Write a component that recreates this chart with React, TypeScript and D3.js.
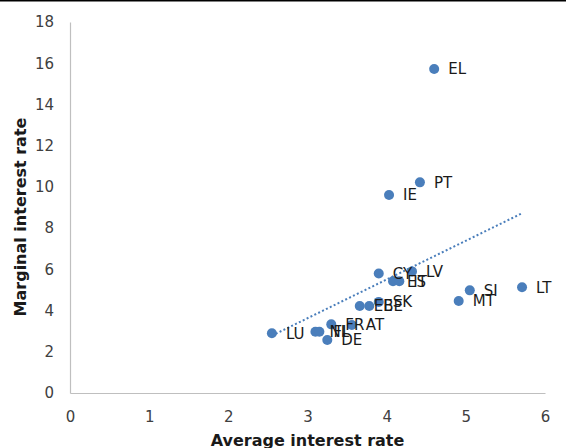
import React, { useEffect, useRef } from 'react';
import * as d3 from 'd3';

// country codes and the two rates (avg on x, marginal on y)
const countries = ['EL', 'PT', 'IE', 'LV', 'CY', 'ES', 'IT', 'SK', 'EE', 'BE', 'FR', 'AT', 'DE', 'NL', 'FI', 'LU', 'MT', 'SI', 'LT'];
const averageRate = [4.6, 4.42, 4.03, 4.32, 3.9, 4.08, 4.16, 3.9, 3.66, 3.78, 3.3, 3.56, 3.25, 3.1, 3.15, 2.55, 4.91, 5.05, 5.71];
const marginalRate = [15.72, 10.22, 9.61, 5.9, 5.8, 5.42, 5.42, 4.42, 4.22, 4.22, 3.33, 3.3, 2.57, 2.97, 2.97, 2.9, 4.46, 4.98, 5.13];

const xTicks = [0, 1, 2, 3, 4, 5, 6];
const yTicks = [0, 2, 4, 6, 8, 10, 12, 14, 16, 18];

const WIDTH = 566;
const HEIGHT = 448;
const BLUE = '#4a7ebb';

export default function App() {
  const ref = useRef<SVGSVGElement>(null);

  useEffect(() => {
    if (!ref.current) return;
    const svg = d3.select(ref.current);
    svg.selectAll('*').remove();

    const x = d3.scaleLinear().domain([0, 6]).range([70, 545]);
    const y = d3.scaleLinear().domain([0, 18]).range([393, 22]);

    // thin black rule along the top edge
    svg.append('line')
      .attr('x1', 0).attr('x2', WIDTH)
      .attr('y1', 0.5).attr('y2', 0.5)
      .attr('stroke', '#000')
      .attr('stroke-width', 2);

    // axes
    const xAxis = svg.append('g')
      .attr('transform', `translate(0,${y(0)})`)
      .call(d3.axisBottom(x).tickValues(xTicks).tickSize(0).tickPadding(18).tickFormat(d3.format('d')));
    const yAxis = svg.append('g')
      .attr('transform', `translate(${x(0)},0)`)
      .call(d3.axisLeft(y).tickValues(yTicks).tickSize(0).tickPadding(16).tickFormat(d3.format('d')));

    [xAxis, yAxis].forEach(a => {
      a.select('.domain').attr('stroke', '#bfbfbf').attr('stroke-width', 1.2);
      a.selectAll('text')
        .attr('fill', '#404040')
        .style('font-family', 'DejaVu Sans, Verdana, sans-serif')
        .style('font-size', '15px');
    });

    // linear trend line over the data range
    const n = countries.length;
    const mx = d3.mean(averageRate) ?? 0;
    const my = d3.mean(marginalRate) ?? 0;
    let sxy = 0;
    let sxx = 0;
    for (let i = 0; i < n; i++) {
      sxy += (averageRate[i] - mx) * (marginalRate[i] - my);
      sxx += (averageRate[i] - mx) ** 2;
    }
    const slope = sxy / sxx;
    const intercept = my - slope * mx;
    const [x0, x1] = d3.extent(averageRate) as [number, number];

    svg.append('line')
      .attr('x1', x(x0)).attr('y1', y(intercept + slope * x0))
      .attr('x2', x(x1)).attr('y2', y(intercept + slope * x1))
      .attr('stroke', BLUE)
      .attr('stroke-width', 2)
      .attr('stroke-dasharray', '2 2.3');

    // points
    const idx = d3.range(n);
    svg.append('g')
      .selectAll('circle')
      .data(idx)
      .enter()
      .append('circle')
      .attr('cx', i => x(averageRate[i]))
      .attr('cy', i => y(marginalRate[i]))
      .attr('r', 5)
      .attr('fill', BLUE);

    // country labels (overlaps are as in the original)
    svg.append('g')
      .selectAll('text')
      .data(idx)
      .enter()
      .append('text')
      .attr('x', i => x(averageRate[i]) + 14)
      .attr('y', i => y(marginalRate[i]))
      .attr('dy', '0.36em')
      .attr('fill', '#1a1a1a')
      .style('font-family', 'DejaVu Sans, Verdana, sans-serif')
      .style('font-size', '15px')
      .text(i => countries[i]);

    // axis titles
    svg.append('text')
      .attr('x', (x(0) + x(6)) / 2)
      .attr('y', 446)
      .attr('text-anchor', 'middle')
      .attr('fill', '#1a1a1a')
      .style('font-family', 'DejaVu Sans, Verdana, sans-serif')
      .style('font-size', '16px')
      .style('font-weight', 'bold')
      .text('Average interest rate');

    svg.append('text')
      .attr('transform', 'translate(26,217) rotate(-90)')
      .attr('text-anchor', 'middle')
      .attr('fill', '#1a1a1a')
      .style('font-family', 'DejaVu Sans, Verdana, sans-serif')
      .style('font-size', '16px')
      .style('font-weight', 'bold')
      .text('Marginal interest rate');
  }, []);

  return (
    <svg
      ref={ref}
      width={WIDTH}
      height={HEIGHT}
      style={{ position: 'absolute', left: 0, top: 0, background: '#fff' }}
    />
  );
}
